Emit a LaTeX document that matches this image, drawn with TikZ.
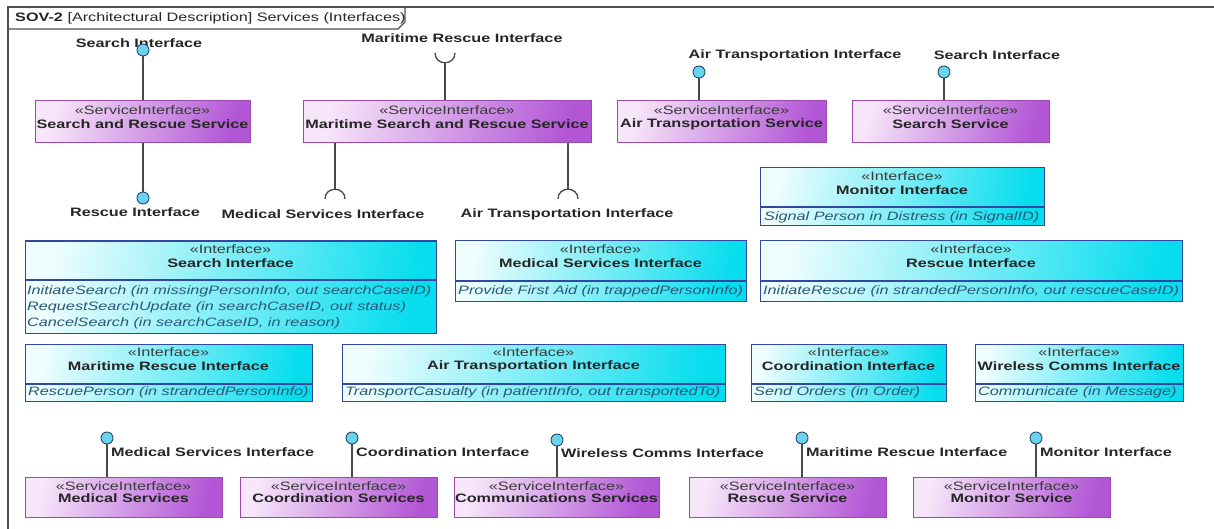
\documentclass[tikz,border=0pt]{standalone}
\usepackage{fontspec}
\setmainfont{Liberation Sans}[FakeStretch=1.33]
\usetikzlibrary{fit,calc}
\definecolor{frm}{HTML}{505050}
\definecolor{svcL}{HTML}{F7E6F9}
\definecolor{svcM}{HTML}{E2B6EE}
\definecolor{svcR}{HTML}{B256D6}
\definecolor{svcB}{HTML}{9A4AAA}
\definecolor{ifcL}{HTML}{EEFDFE}
\definecolor{ifcM}{HTML}{80F0F8}
\definecolor{ifcR}{HTML}{08DDEE}
\definecolor{ifcB}{HTML}{3048A0}
\definecolor{opc}{HTML}{2A5878}
\definecolor{lolF}{HTML}{6AD4F0}
\definecolor{lolB}{HTML}{2A4A68}
\definecolor{txt}{HTML}{262626}
\definecolor{stc}{HTML}{3A3A3A}
\definecolor{stk}{HTML}{4A4A4A}

\newcommand\svcnode[7]{%
  \node[svc, fit={(#2,#3) (#4,#5)}] (#1) {};
  \node[stereo] (#1-s) at ($(#1.north)+(0,9.5)$) {«ServiceInterface»};
  \node[bname] (#1-n) at ($(#1.north)+(0,#7)$) {#6};
}
\newcommand\ifcnode[7]{%
  \node[ifc, fit={(#2,#3) (#4,#5)}] (#1) {};
  \coordinate (#1-sy) at (0,#6);
  \draw[sepl] (#1.west |- #1-sy) -- (#1.east |- #1-sy);
  \node[stereo] (#1-s) at ($(#1.north)+(0,9)$) {«Interface»};
  \node[bname] (#1-n) at ($(#1.north)+(0,22.5)$) {#7};
}

\begin{document}
\begin{tikzpicture}[x=1pt,y=-1pt,
  font=\fontsize{12.2}{14}\selectfont,
  svc/.style={draw=svcB, line width=1pt, inner sep=0pt,
    left color=svcL, middle color=svcM, right color=svcR, shading angle=75},
  ifc/.style={draw=ifcB, line width=1pt, inner sep=0pt,
    left color=ifcL, middle color=ifcM, right color=ifcR, shading angle=80},
  sepl/.style={draw=ifcB, line width=1.6pt},
  stereo/.style={text=stc, inner sep=0pt},
  bname/.style={text=txt, font=\fontsize{12.2}{14}\selectfont\bfseries, inner sep=0pt},
  op/.style={text=opc, font=\fontsize{12.2}{14}\selectfont\itshape, inner sep=0pt, anchor=west},
  lbl/.style={text=txt, font=\fontsize{12.2}{14}\selectfont\bfseries, inner sep=0pt},
  lol/.style={circle, draw=lolB, fill=lolF, line width=0.9pt, minimum size=12pt, inner sep=0pt},
  stick/.style={draw=stk, line width=1.6pt},
  sock/.style={draw=stk, line width=1.3pt},
  frame/.style={draw=frm, line width=1.1pt}
]
\useasboundingbox[fill=white] (0,0) rectangle (1214,529);

% frame
\coordinate (f-tl) at (8,7);
\coordinate (f-tr) at (1214,7);
\coordinate (f-bl) at (8,529);
\draw[frame] (f-bl) -- (f-tl) -- (f-tr);
\draw[frame] (8,29) -- (398,29) -- (405,22) -- (405,7);
\node[anchor=west, inner sep=0pt, text=txt] (title) at (15,18.5)
  {\textbf{SOV-2} [Architectural Description] Services (Interfaces)};

% ---------- service interfaces, top row ----------
\svcnode{sars}{35}{101}{250}{143}{Search and Rescue Service}{23.5}
\svcnode{msar}{303}{101}{591}{143}{Maritime Search and Rescue Service}{23.5}
\svcnode{ats}{617}{101}{826}{143}{Air Transportation Service}{23.5}
\svcnode{ss}{852}{101}{1049}{143}{Search Service}{23.5}

% lollipops / sockets top row
\node[lbl] (l-sars-t-t) at (139,43) {Search Interface};
\node[lol] (l-sars-t) at (143,50) {};
\draw[stick] (l-sars-t |- sars.north) -- (l-sars-t);

\node[lol] (l-sars-b) at (143,198) {};
\draw[stick] (l-sars-b |- sars.south) -- (l-sars-b);
\node[lbl] (l-sars-b-t) at (135,212) {Rescue Interface};

\node[lbl] (s-msar-t-t) at (462,38) {Maritime Rescue Interface};
\coordinate (s-msar-t) at (445,63);
\draw[stick] (s-msar-t |- msar.north) -- (s-msar-t);
\draw[sock] ($(s-msar-t)+(-10,-10)$) .. controls ($(s-msar-t)+(-10,3)$) and ($(s-msar-t)+(10,3)$) .. ($(s-msar-t)+(10,-10)$);

\coordinate (s-msar-bl) at (335,189);
\draw[stick] (s-msar-bl |- msar.south) -- (s-msar-bl);
\draw[sock] ($(s-msar-bl)+(-10,10)$) .. controls ($(s-msar-bl)+(-10,-3)$) and ($(s-msar-bl)+(10,-3)$) .. ($(s-msar-bl)+(10,10)$);
\node[lbl] (s-msar-bl-t) at (323,214) {Medical Services Interface};

\coordinate (s-msar-br) at (568,189);
\draw[stick] (s-msar-br |- msar.south) -- (s-msar-br);
\draw[sock] ($(s-msar-br)+(-10,10)$) .. controls ($(s-msar-br)+(-10,-3)$) and ($(s-msar-br)+(10,-3)$) .. ($(s-msar-br)+(10,10)$);
\node[lbl] (s-msar-br-t) at (567,214) {Air Transportation Interface};

\node[lbl] (l-ats-t) at (795,55) {Air Transportation Interface};
\node[lol] (l-ats) at (699,72) {};
\draw[stick] (l-ats |- ats.north) -- (l-ats);

\node[lbl] (l-ss-t) at (997,55) {Search Interface};
\node[lol] (l-ss) at (944,72) {};
\draw[stick] (l-ss |- ss.north) -- (l-ss);

% ---------- interfaces ----------
\ifcnode{mi}{760}{168}{1044}{226}{207}{Monitor Interface}
\node[op] (mi-o1) at (764,217) {Signal Person in Distress (in SignalID)};

\ifcnode{si}{25}{241}{436}{333}{280}{Search Interface}
\node[op] (si-o1) at (27,291) {InitiateSearch (in missingPersonInfo, out searchCaseID)};
\node[op] (si-o2) at (27,307) {RequestSearchUpdate (in searchCaseID, out status)};
\node[op] (si-o3) at (27,323) {CancelSearch (in searchCaseID, in reason)};

\ifcnode{msi}{455}{241}{746}{301}{281}{Medical Services Interface}
\node[op] (msi-o1) at (458,291) {Provide First Aid (in trappedPersonInfo)};

\ifcnode{ri}{760}{241}{1182}{301}{281}{Rescue Interface}
\node[op] (ri-o1) at (763,291) {InitiateRescue (in strandedPersonInfo, out rescueCaseID)};

\ifcnode{mri}{25}{344}{312}{401}{384}{Maritime Rescue Interface}
\node[op] (mri-o1) at (28,392) {RescuePerson (in strandedPersonInfo)};

\ifcnode{ati}{342}{344}{725}{401}{384}{Air Transportation Interface}
\node[op] (ati-o1) at (345,392) {TransportCasualty (in patientInfo, out transportedTo)};

\ifcnode{ci}{751}{344}{946}{401}{384}{Coordination Interface}
\node[op] (ci-o1) at (754,392) {Send Orders (in Order)};

\ifcnode{wi}{975}{344}{1183}{401}{384}{Wireless Comms Interface}
\node[op] (wi-o1) at (978,392) {Communicate (in Message)};

% ---------- service interfaces, bottom row ----------
\svcnode{ms}{25}{477}{222}{517}{Medical Services}{21.5}
\svcnode{cs}{240}{477}{437}{517}{Coordination Services}{21.5}
\svcnode{comm}{454}{477}{659}{517}{Communications Services}{21.5}
\svcnode{rs}{689}{477}{886}{517}{Rescue Service}{21.5}
\svcnode{mons}{913}{477}{1110}{517}{Monitor Service}{21.5}

\node[lol] (l-ms) at (107,438) {};
\draw[stick] (l-ms |- ms.north) -- (l-ms);
\node[lbl, anchor=west] (l-ms-t) at (111,452) {Medical Services Interface};

\node[lol] (l-cs) at (352,438) {};
\draw[stick] (l-cs |- cs.north) -- (l-cs);
\node[lbl, anchor=west] (l-cs-t) at (356,452) {Coordination Interface};

\node[lol] (l-comm) at (557,440) {};
\draw[stick] (l-comm |- comm.north) -- (l-comm);
\node[lbl, anchor=west] (l-comm-t) at (561,453) {Wireless Comms Interface};

\node[lol] (l-rs) at (802,438) {};
\draw[stick] (l-rs |- rs.north) -- (l-rs);
\node[lbl, anchor=west] (l-rs-t) at (806,452) {Maritime Rescue Interface};

\node[lol] (l-mons) at (1036,438) {};
\draw[stick] (l-mons |- mons.north) -- (l-mons);
\node[lbl, anchor=west] (l-mons-t) at (1040,452) {Monitor Interface};
\end{tikzpicture}
\end{document}
